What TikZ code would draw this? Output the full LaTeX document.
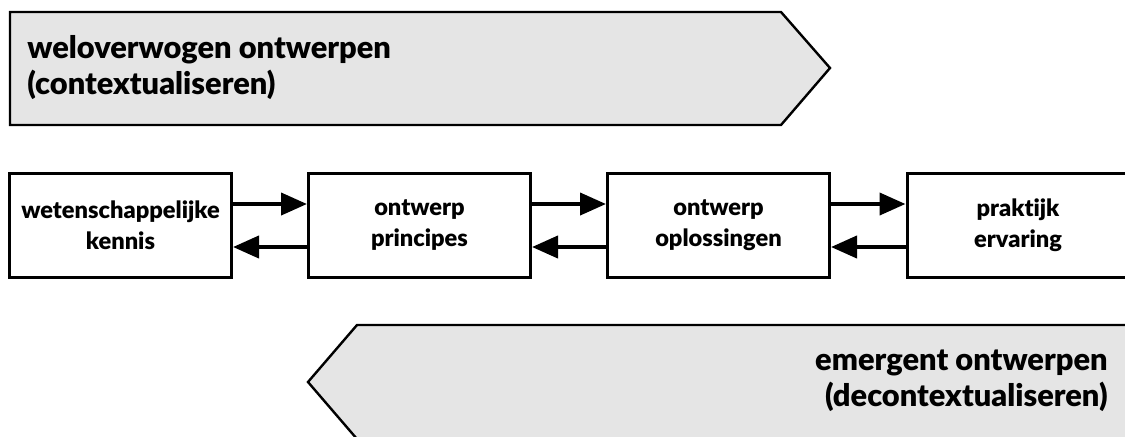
\documentclass[tikz,border=0pt]{standalone}
\usepackage{fontspec}
\setmainfont{Lato}[Ligatures=NoCommon, BoldFont={Lato Black}]
\usetikzlibrary{arrows.meta}

\tikzset{
  blok/.style={draw, line width=1.5pt, minimum width=111pt, minimum height=52pt,
    align=center, inner sep=0pt, font=\fontsize{11.8}{15.5}\selectfont\bfseries},
  pijl/.style={line width=2pt, -{Triangle[length=13pt,width=11pt]}},
  vlak/.style={draw, line width=1.2pt, fill=black!10, line join=miter},
  kop/.style={inner sep=0pt, font=\fontsize{15.4}{18}\selectfont\bfseries}
}

\begin{document}
\begin{tikzpicture}[x=0.5pt,y=-0.5pt]
  \useasboundingbox (0,0) rectangle (1125,436);
  \clip (0,0) rectangle (1125,436);

  % the two process bands
  \draw[vlak] (10,12) -- (781,12) -- (830,68) -- (781,125) -- (10,125) -- cycle;
  \draw[vlak] (357,325) -- (1140,325) -- (1140,439) -- (357,439) -- (308,382) -- cycle;
  \node[kop, anchor=west, align=left] (wel) at (27,68) {weloverwogen ontwerpen\\(contextualiseren)};
  \node[kop, anchor=east, align=right] (em) at (1108,381) {emergent ontwerpen\\(decontextualiseren)};

  % the four boxes
  \node[blok] (kennis) at (120.5,225) {wetenschappelijke\\kennis};
  \node[blok] (principes) at (419.5,225) {ontwerp\\principes};
  \node[blok] (oplossingen) at (718.5,225) {ontwerp\\oplossingen};
  \node[blok] (praktijk) at (1018,225) {praktijk\\ervaring};

  \draw[pijl] ([yshift=10.5pt]kennis.east) -- ([yshift=10.5pt]principes.west);
  \draw[pijl] ([yshift=-11pt]principes.west) -- ([yshift=-11pt]kennis.east);
  \draw[pijl] ([yshift=10.5pt]principes.east) -- ([yshift=10.5pt]oplossingen.west);
  \draw[pijl] ([yshift=-11pt]oplossingen.west) -- ([yshift=-11pt]principes.east);
  \draw[pijl] ([yshift=10.5pt]oplossingen.east) -- ([yshift=10.5pt]praktijk.west);
  \draw[pijl] ([yshift=-11pt]praktijk.west) -- ([yshift=-11pt]oplossingen.east);
\end{tikzpicture}
\end{document}
